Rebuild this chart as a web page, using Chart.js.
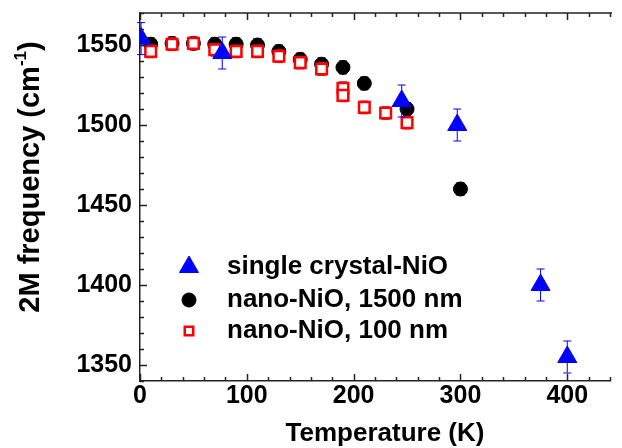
<!DOCTYPE html>
<html>
<head>
<meta charset="utf-8">
<script src="https://cdn.jsdelivr.net/npm/chart.js@4"></script>
<style>
  body { margin: 0; background: #fff; }
  canvas { display: block; }
</style>
</head>
<body>
<canvas id="chart" width="622" height="448"></canvas>
<script>
// single crystal NiO
const crystalT = [1, 77, 245, 297, 375, 400];
const crystalFreq = [1554, 1545, 1515, 1500, 1400, 1355];
const crystalErr = [10, 10, 10, 10, 10, 10];

// nano NiO, 1500 nm
const bigT = [10, 30, 50, 70, 90, 110, 130, 150, 170, 190, 210, 250, 300];
const bigFreq = [1550.5, 1551, 1551, 1550.5, 1550.5, 1550, 1546, 1541, 1538, 1536, 1526, 1510, 1460];
const bigErr = [4, 4, 4, 4, 4, 4, 4, 4, 4, 4, 4, 4, 4];

// nano NiO, 100 nm
const smallT = [10, 30, 50, 70, 90, 110, 130, 150, 170, 190, 190, 210, 230, 250];
const smallFreq = [1546, 1550.5, 1551, 1547, 1546, 1546, 1543, 1539, 1535, 1523, 1518.5, 1511, 1507.5, 1501.5];
const smallErr = [4, 4, 4, 4, 4, 4, 4, 4, 4, 4, 4, 4, 4, 4];

const seriesLabels = ["single crystal-NiO", "nano-NiO, 1500 nm", "nano-NiO, 100 nm"];
const xTickValues = [0, 100, 200, 300, 400];
const yTickValues = [1350, 1400, 1450, 1500, 1550];
const xTitle = "Temperature (K)";
const yTitle = "2M frequency (cm";
const yTitleSup = "-1";

const FONT = "'Liberation Sans', Arial, sans-serif";

function points(xs, ys) {
  return xs.map((x, i) => ({ x: x, y: ys[i] }));
}

const errorBars = {
  id: "errorBars",
  beforeDatasetDraw(chart, args) {
    const ds = chart.data.datasets[args.index];
    const y = chart.scales.y;
    const ctx = chart.ctx;
    ctx.save();
    ctx.strokeStyle = ds.borderColor;
    ctx.lineWidth = 1;
    args.meta.data.forEach((pt, i) => {
      const v = ds.data[i].y;
      const e = ds.errors[i];
      const top = y.getPixelForValue(v + e);
      const bot = y.getPixelForValue(v - e);
      ctx.beginPath();
      ctx.moveTo(pt.x, top);
      ctx.lineTo(pt.x, bot);
      ctx.moveTo(pt.x - 4, top);
      ctx.lineTo(pt.x + 4, top);
      ctx.moveTo(pt.x - 4, bot);
      ctx.lineTo(pt.x + 4, bot);
      ctx.stroke();
    });
    ctx.restore();
  }
};

const frame = {
  id: "frame",
  afterDraw(chart) {
    const ctx = chart.ctx;
    const a = chart.chartArea;
    const x = chart.scales.x;
    const y = chart.scales.y;
    ctx.save();
    ctx.strokeStyle = "#222";
    ctx.lineWidth = 1.5;
    ctx.beginPath();
    ctx.moveTo(a.left, a.top);
    ctx.lineTo(a.right + 2, a.top);
    for (let v = 0; v <= 440; v += 20) {
      const px = Math.round(x.getPixelForValue(v)) + 0.5;
      const len = v % 100 === 0 ? 7 : 4;
      ctx.moveTo(px, a.bottom);
      ctx.lineTo(px, a.bottom - len);
      ctx.moveTo(px, a.top);
      ctx.lineTo(px, a.top + len);
    }
    for (let v = 1340; v <= 1570; v += 10) {
      const py = Math.round(y.getPixelForValue(v)) + 0.5;
      const len = v % 50 === 0 ? 7 : 4;
      ctx.moveTo(a.left, py);
      ctx.lineTo(a.left + len, py);
    }
    ctx.stroke();

    // axis titles
    ctx.fillStyle = "#000";
    ctx.font = "bold 26px " + FONT;
    ctx.textAlign = "center";
    ctx.textBaseline = "middle";
    ctx.fillText(xTitle, 385, 434);

    ctx.translate(31, 177);
    ctx.rotate(-Math.PI / 2);
    ctx.font = "bold 29px " + FONT;
    const w1 = ctx.measureText(yTitle).width;
    ctx.font = "bold 17px " + FONT;
    const w2 = ctx.measureText(yTitleSup).width;
    ctx.font = "bold 29px " + FONT;
    const w3 = ctx.measureText(")").width;
    let sx = -(w1 + w2 + w3) / 2;
    ctx.textAlign = "left";
    ctx.fillText(yTitle, sx, 0);
    sx += w1;
    ctx.font = "bold 17px " + FONT;
    ctx.fillText(yTitleSup, sx, -10);
    sx += w2;
    ctx.font = "bold 29px " + FONT;
    ctx.fillText(")", sx, 0);
    ctx.restore();

    // legend
    const rows = [267, 300, 331];
    ctx.save();
    chart.data.datasets.forEach((ds, i) => {
      ctx.fillStyle = ds.backgroundColor;
      ctx.strokeStyle = ds.borderColor;
      ctx.lineWidth = ds.borderWidth;
      Chart.helpers.drawPoint(ctx, {
        pointStyle: ds.pointStyle,
        radius: ds.pointStyle === "rect" ? 6 : ds.pointRadius,
        rotation: 0,
        borderWidth: ds.borderWidth
      }, 189, rows[i]);
      ctx.fillStyle = "#000";
      ctx.font = "bold 26px " + FONT;
      ctx.textAlign = "left";
      ctx.textBaseline = "middle";
      ctx.fillText(ds.label, 227, rows[i]);
    });
    ctx.restore();
  }
};

new Chart(document.getElementById("chart").getContext("2d"), {
  type: "scatter",
  data: {
    datasets: [
      {
        label: seriesLabels[0],
        data: points(crystalT, crystalFreq),
        errors: crystalErr,
        pointStyle: "triangle",
        pointRadius: 11,
        borderWidth: 1,
        backgroundColor: "#0000ff",
        borderColor: "#0000ff",
        clip: 0,
        order: 0
      },
      {
        label: seriesLabels[1],
        data: points(bigT, bigFreq),
        errors: bigErr,
        pointStyle: "circle",
        pointRadius: 7,
        borderWidth: 1,
        backgroundColor: "#000000",
        borderColor: "#000000",
        clip: 0,
        order: 2
      },
      {
        label: seriesLabels[2],
        data: points(smallT, smallFreq),
        errors: smallErr,
        pointStyle: "rect",
        pointRadius: 7.5,
        borderWidth: 2.5,
        backgroundColor: "#ffffff",
        borderColor: "#ff0000",
        clip: 0,
        order: 1
      }
    ]
  },
  options: {
    responsive: false,
    animation: false,
    devicePixelRatio: 1,
    layout: { padding: { top: 13, right: 1.5, left: 0, bottom: 0 } },
    plugins: { legend: { display: false }, tooltip: { enabled: false } },
    scales: {
      x: {
        type: "linear",
        min: 0,
        max: 440,
        grid: { display: false },
        border: { display: true, color: "#222", width: 1.5 },
        ticks: {
          maxRotation: 0,
          padding: -8,
          color: "#000",
          font: { family: FONT, size: 25, weight: "bold" },
          callback: v => String(v)
        },
        afterBuildTicks(scale) {
          scale.ticks = xTickValues.map(v => ({ value: v }));
        },
        afterFit(scale) {
          scale.height = 67;
          scale.paddingLeft = 0;
          scale.paddingRight = 0;
        }
      },
      y: {
        type: "linear",
        min: 1340,
        max: 1570,
        grid: { display: false },
        border: { display: true, color: "#222", width: 1.5 },
        ticks: {
          padding: 0,
          color: "#000",
          font: { family: FONT, size: 25, weight: "bold" },
          callback: v => String(v)
        },
        afterBuildTicks(scale) {
          scale.ticks = yTickValues.map(v => ({ value: v }));
        },
        afterFit(scale) {
          scale.width = 140;
          scale.paddingTop = 0;
          scale.paddingBottom = 0;
        }
      }
    }
  },
  plugins: [errorBars, frame]
});
</script>
</body>
</html>
